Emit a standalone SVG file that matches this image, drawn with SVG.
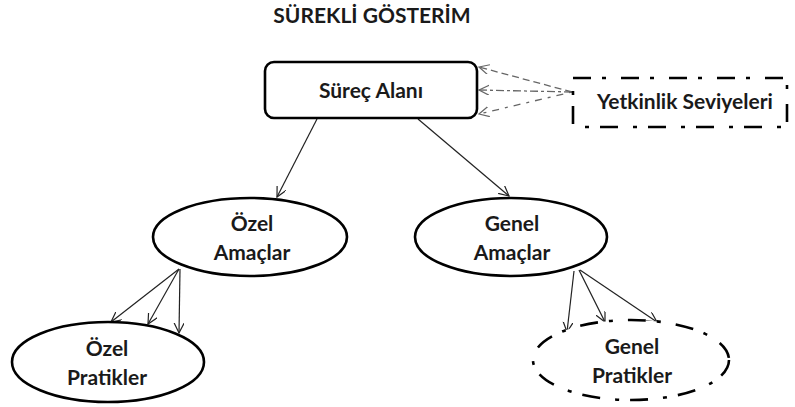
<svg xmlns="http://www.w3.org/2000/svg" width="795" height="407" viewBox="0 0 795 407">
<style>
text{font-family:Lato,"Liberation Sans",sans-serif;font-weight:bold;font-size:21px;fill:#1a1a1a;text-anchor:middle}
.shape{fill:#fff;stroke:#000;stroke-width:2.6}
.dd{stroke-dasharray:18 11 4 15}
.conn{stroke:#222;stroke-width:1.2;fill:none}
.gray{stroke:#666;stroke-width:1.3;fill:none}
</style>
<defs>
<marker id="arr" markerWidth="12" markerHeight="12" refX="10" refY="5" orient="auto" markerUnits="userSpaceOnUse">
<path d="M0,0 L10,5 L0,10" fill="none" stroke="#222" stroke-width="1.2"/>
</marker>
<marker id="arrg" markerWidth="12" markerHeight="12" refX="10" refY="5" orient="auto" markerUnits="userSpaceOnUse">
<path d="M0,0 L10,5 L0,10" fill="none" stroke="#666" stroke-width="1.2"/>
</marker>
</defs>
<text x="372" y="23">SÜREKLİ GÖSTERİM</text>
<g id="connectors">
<line class="gray" x1="572" y1="92" x2="479" y2="67" stroke-dasharray="7 4" marker-end="url(#arrg)"/>
<line class="gray" x1="572" y1="92" x2="479" y2="90" stroke-dasharray="8 3 3 3" marker-end="url(#arrg)"/>
<line class="gray" x1="572" y1="92" x2="479" y2="114" stroke-dasharray="3 6 7 6" marker-end="url(#arrg)"/>
<line class="conn" x1="317" y1="119" x2="277" y2="197" marker-end="url(#arr)"/>
<line class="conn" x1="418" y1="119" x2="509" y2="196" marker-end="url(#arr)"/>
<line class="conn" x1="179" y1="269" x2="111" y2="322" marker-end="url(#arr)"/>
<line class="conn" x1="179" y1="269" x2="148" y2="324" marker-end="url(#arr)"/>
<line class="conn" x1="180" y1="269" x2="179" y2="333" marker-end="url(#arr)"/>
<line class="conn" x1="574" y1="271" x2="567" y2="332" marker-end="url(#arr)"/>
<line class="conn" x1="579" y1="270" x2="605" y2="322" marker-end="url(#arr)"/>
<line class="conn" x1="580" y1="270" x2="657" y2="322" marker-end="url(#arr)"/>
</g>
<g id="surec-alani">
<rect class="shape" x="265" y="62" width="212" height="56" rx="9"/>
<text x="371" y="98">Süreç Alanı</text>
</g>
<g id="yetkinlik-seviyeleri">
<rect class="shape dd" x="573" y="78" width="214" height="49" stroke-width="3"/>
<text x="685" y="109">Yetkinlik Seviyeleri</text>
</g>
<g id="ozel-amaclar">
<ellipse class="shape" cx="250" cy="237" rx="97" ry="39"/>
<text x="252" y="231">Özel</text>
<text x="252" y="260">Amaçlar</text>
</g>
<g id="genel-amaclar">
<ellipse class="shape" cx="511" cy="237" rx="96" ry="39"/>
<text x="512" y="231">Genel</text>
<text x="512" y="260">Amaçlar</text>
</g>
<g id="ozel-pratikler">
<ellipse class="shape" cx="108" cy="362" rx="96" ry="40"/>
<text x="107" y="356">Özel</text>
<text x="107" y="385">Pratikler</text>
</g>
<g id="genel-pratikler">
<ellipse class="shape dd" cx="631" cy="360" rx="98" ry="40" stroke-width="3"/>
<text x="632" y="354">Genel</text>
<text x="632" y="383">Pratikler</text>
</g>
</svg>
